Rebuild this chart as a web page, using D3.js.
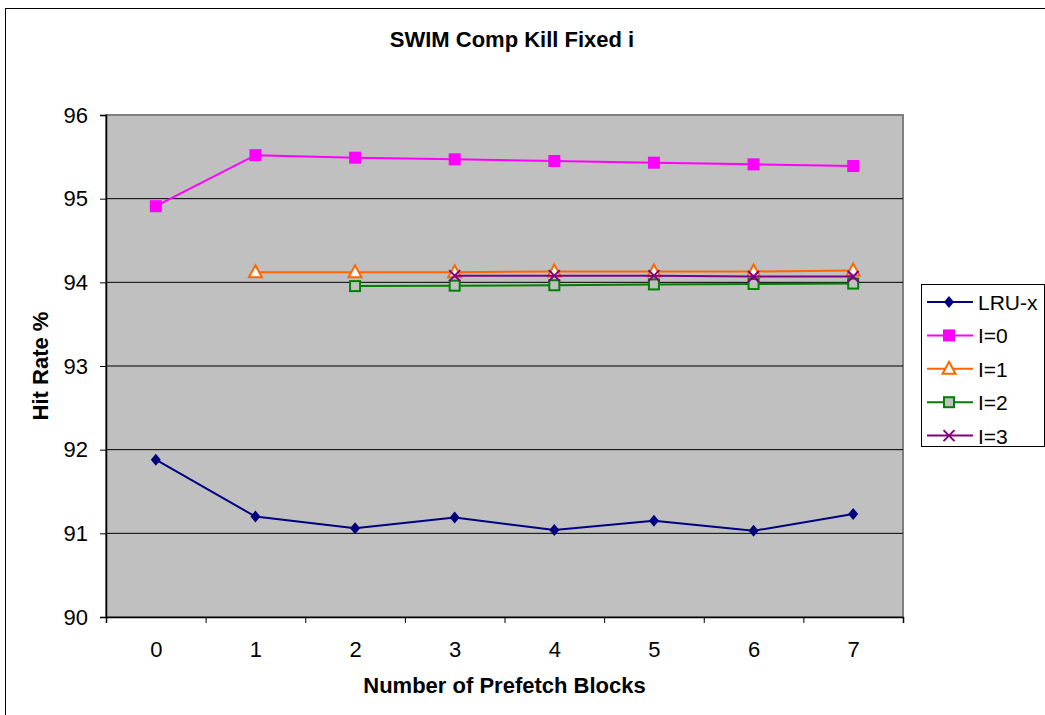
<!DOCTYPE html>
<html>
<head>
<meta charset="utf-8">
<script src="https://cdn.jsdelivr.net/npm/d3@7"></script>
<style>
  body { margin: 0; background: #fff; }
  text { font-family: "Liberation Sans", Arial, sans-serif; }
</style>
</head>
<body>
<div id="chart"></div>
<script>
// data
const categories = [0, 1, 2, 3, 4, 5, 6, 7];
const lruX = [91.88, 91.20, 91.06, 91.19, 91.04, 91.15, 91.03, 91.23];
const i0 = [94.91, 95.52, 95.49, 95.47, 95.45, 95.43, 95.41, 95.39];
const i1 = [null, 94.12, 94.12, 94.12, 94.13, 94.13, 94.13, 94.14];
const i2 = [null, null, 93.955, 93.96, 93.965, 93.975, 93.98, 93.985];
const i3 = [null, null, null, 94.08, 94.08, 94.08, 94.07, 94.07];
const yTicks = [90, 91, 92, 93, 94, 95, 96];

const series = [
  { name: 'LRU-x', values: lruX, color: '#000080', marker: 'diamond' },
  { name: 'I=0', values: i0, color: '#ff00ff', marker: 'square' },
  { name: 'I=1', values: i1, color: '#ff6600', marker: 'triangle' },
  { name: 'I=2', values: i2, color: '#008000', marker: 'hollowSquare' },
  { name: 'I=3', values: i3, color: '#800080', marker: 'x' }
];

const width = 1045, height = 715;
const plot = { left: 106, right: 903, top: 115, bottom: 617 };
const fontFamily = '"Liberation Sans", Arial, sans-serif';

const svg = d3.select('#chart').append('svg')
  .attr('width', width)
  .attr('height', height);

// outer frame
svg.append('rect')
  .attr('x', 5.5).attr('y', 8.5)
  .attr('width', width).attr('height', height)
  .attr('fill', '#fff')
  .attr('stroke', '#000')
  .attr('stroke-width', 1);

const x = d3.scaleLinear().domain([-0.5, 7.5]).range([plot.left, plot.right]);
const y = d3.scaleLinear().domain([90, 96]).range([plot.bottom, plot.top]);

// plot area
svg.append('rect')
  .attr('x', plot.left).attr('y', plot.top)
  .attr('width', plot.right - plot.left).attr('height', plot.bottom - plot.top)
  .attr('fill', '#c0c0c0')
  .attr('stroke', '#808080')
  .attr('stroke-width', 2);

// gridlines
svg.append('g')
  .selectAll('line')
  .data(yTicks.slice(1, -1))
  .enter()
  .append('line')
  .attr('x1', plot.left).attr('x2', plot.right)
  .attr('y1', d => y(d)).attr('y2', d => y(d))
  .attr('stroke', '#000')
  .attr('stroke-width', 1);

// y axis
const yAxis = svg.append('g')
  .attr('transform', `translate(${plot.left},0)`)
  .call(d3.axisLeft(y).tickValues(yTicks).tickFormat(d3.format('d')).tickSize(6).tickPadding(12));
yAxis.select('.domain').attr('stroke', '#000').attr('stroke-width', 1.5);
yAxis.selectAll('text').attr('font-size', 22).attr('fill', '#000')
  .style('font-family', fontFamily);

// x axis: ticks at category boundaries, labels at centers
const xTickAxis = svg.append('g')
  .attr('transform', `translate(0,${plot.bottom})`)
  .call(d3.axisBottom(x).tickValues(d3.range(-0.5, 8, 1)).tickSize(6).tickFormat(''));
xTickAxis.select('.domain').attr('stroke', '#000').attr('stroke-width', 1.5);

const xLabelAxis = svg.append('g')
  .attr('transform', `translate(0,${plot.bottom})`)
  .call(d3.axisBottom(x).tickValues(categories).tickSize(0).tickPadding(24));
xLabelAxis.select('.domain').remove();
xLabelAxis.selectAll('text').attr('font-size', 22).attr('fill', '#000')
  .style('font-family', fontFamily);

// titles
svg.append('text')
  .attr('x', 512).attr('y', 47)
  .attr('text-anchor', 'middle')
  .attr('font-size', 22).attr('font-weight', 'bold')
  .text('SWIM Comp Kill Fixed i');

svg.append('text')
  .attr('x', (plot.left + plot.right) / 2).attr('y', 693)
  .attr('text-anchor', 'middle')
  .attr('font-size', 22).attr('font-weight', 'bold')
  .text('Number of Prefetch Blocks');

svg.append('text')
  .attr('transform', `translate(48,${(plot.top + plot.bottom) / 2}) rotate(-90)`)
  .attr('text-anchor', 'middle')
  .attr('font-size', 22).attr('font-weight', 'bold')
  .text('Hit Rate %');

// marker drawing
function drawMarker(g, type, color) {
  if (type === 'diamond') {
    g.append('path').attr('d', 'M0,-6L5,0L0,6L-5,0Z').attr('fill', color);
  } else if (type === 'square') {
    g.append('rect').attr('x', -6).attr('y', -6).attr('width', 12).attr('height', 12).attr('fill', color);
  } else if (type === 'triangle') {
    g.append('path').attr('d', 'M0,-7L6.5,5L-6.5,5Z')
      .attr('fill', '#fff').attr('stroke', color).attr('stroke-width', 2);
  } else if (type === 'hollowSquare') {
    g.append('rect').attr('x', -5).attr('y', -5).attr('width', 10).attr('height', 10)
      .attr('fill', '#c0c0c0').attr('stroke', color).attr('stroke-width', 2);
  } else if (type === 'x') {
    g.append('path').attr('d', 'M-5.5,-5.5L5.5,5.5M-5.5,5.5L5.5,-5.5')
      .attr('stroke', color).attr('stroke-width', 2).attr('fill', 'none');
  }
}

const line = d3.line()
  .defined(d => d.v !== null)
  .x(d => x(d.c))
  .y(d => y(d.v));

// series in order, later ones on top
series.forEach(s => {
  const pts = categories.map((c, i) => ({ c, v: s.values[i] }));
  const g = svg.append('g');
  g.append('path')
    .datum(pts)
    .attr('d', line)
    .attr('fill', 'none')
    .attr('stroke', s.color)
    .attr('stroke-width', 2);
  pts.filter(d => d.v !== null).forEach(d => {
    const m = g.append('g').attr('transform', `translate(${x(d.c)},${y(d.v)})`);
    drawMarker(m, s.marker, s.color);
  });
});

// legend
const legend = svg.append('g').attr('transform', 'translate(921,284)');
legend.append('rect')
  .attr('x', 0.5).attr('y', 0.5)
  .attr('width', 123).attr('height', 162)
  .attr('fill', '#fff').attr('stroke', '#000');

series.forEach((s, i) => {
  const row = legend.append('g').attr('transform', `translate(0,${18 + i * 33.4})`);
  row.append('line')
    .attr('x1', 6).attr('x2', 52)
    .attr('stroke', s.color).attr('stroke-width', 2);
  const m = row.append('g').attr('transform', 'translate(28,0)');
  drawMarker(m, s.marker, s.color);
  row.append('text')
    .attr('x', 57).attr('y', 8)
    .attr('font-size', 21)
    .text(s.name);
});
</script>
</body>
</html>
